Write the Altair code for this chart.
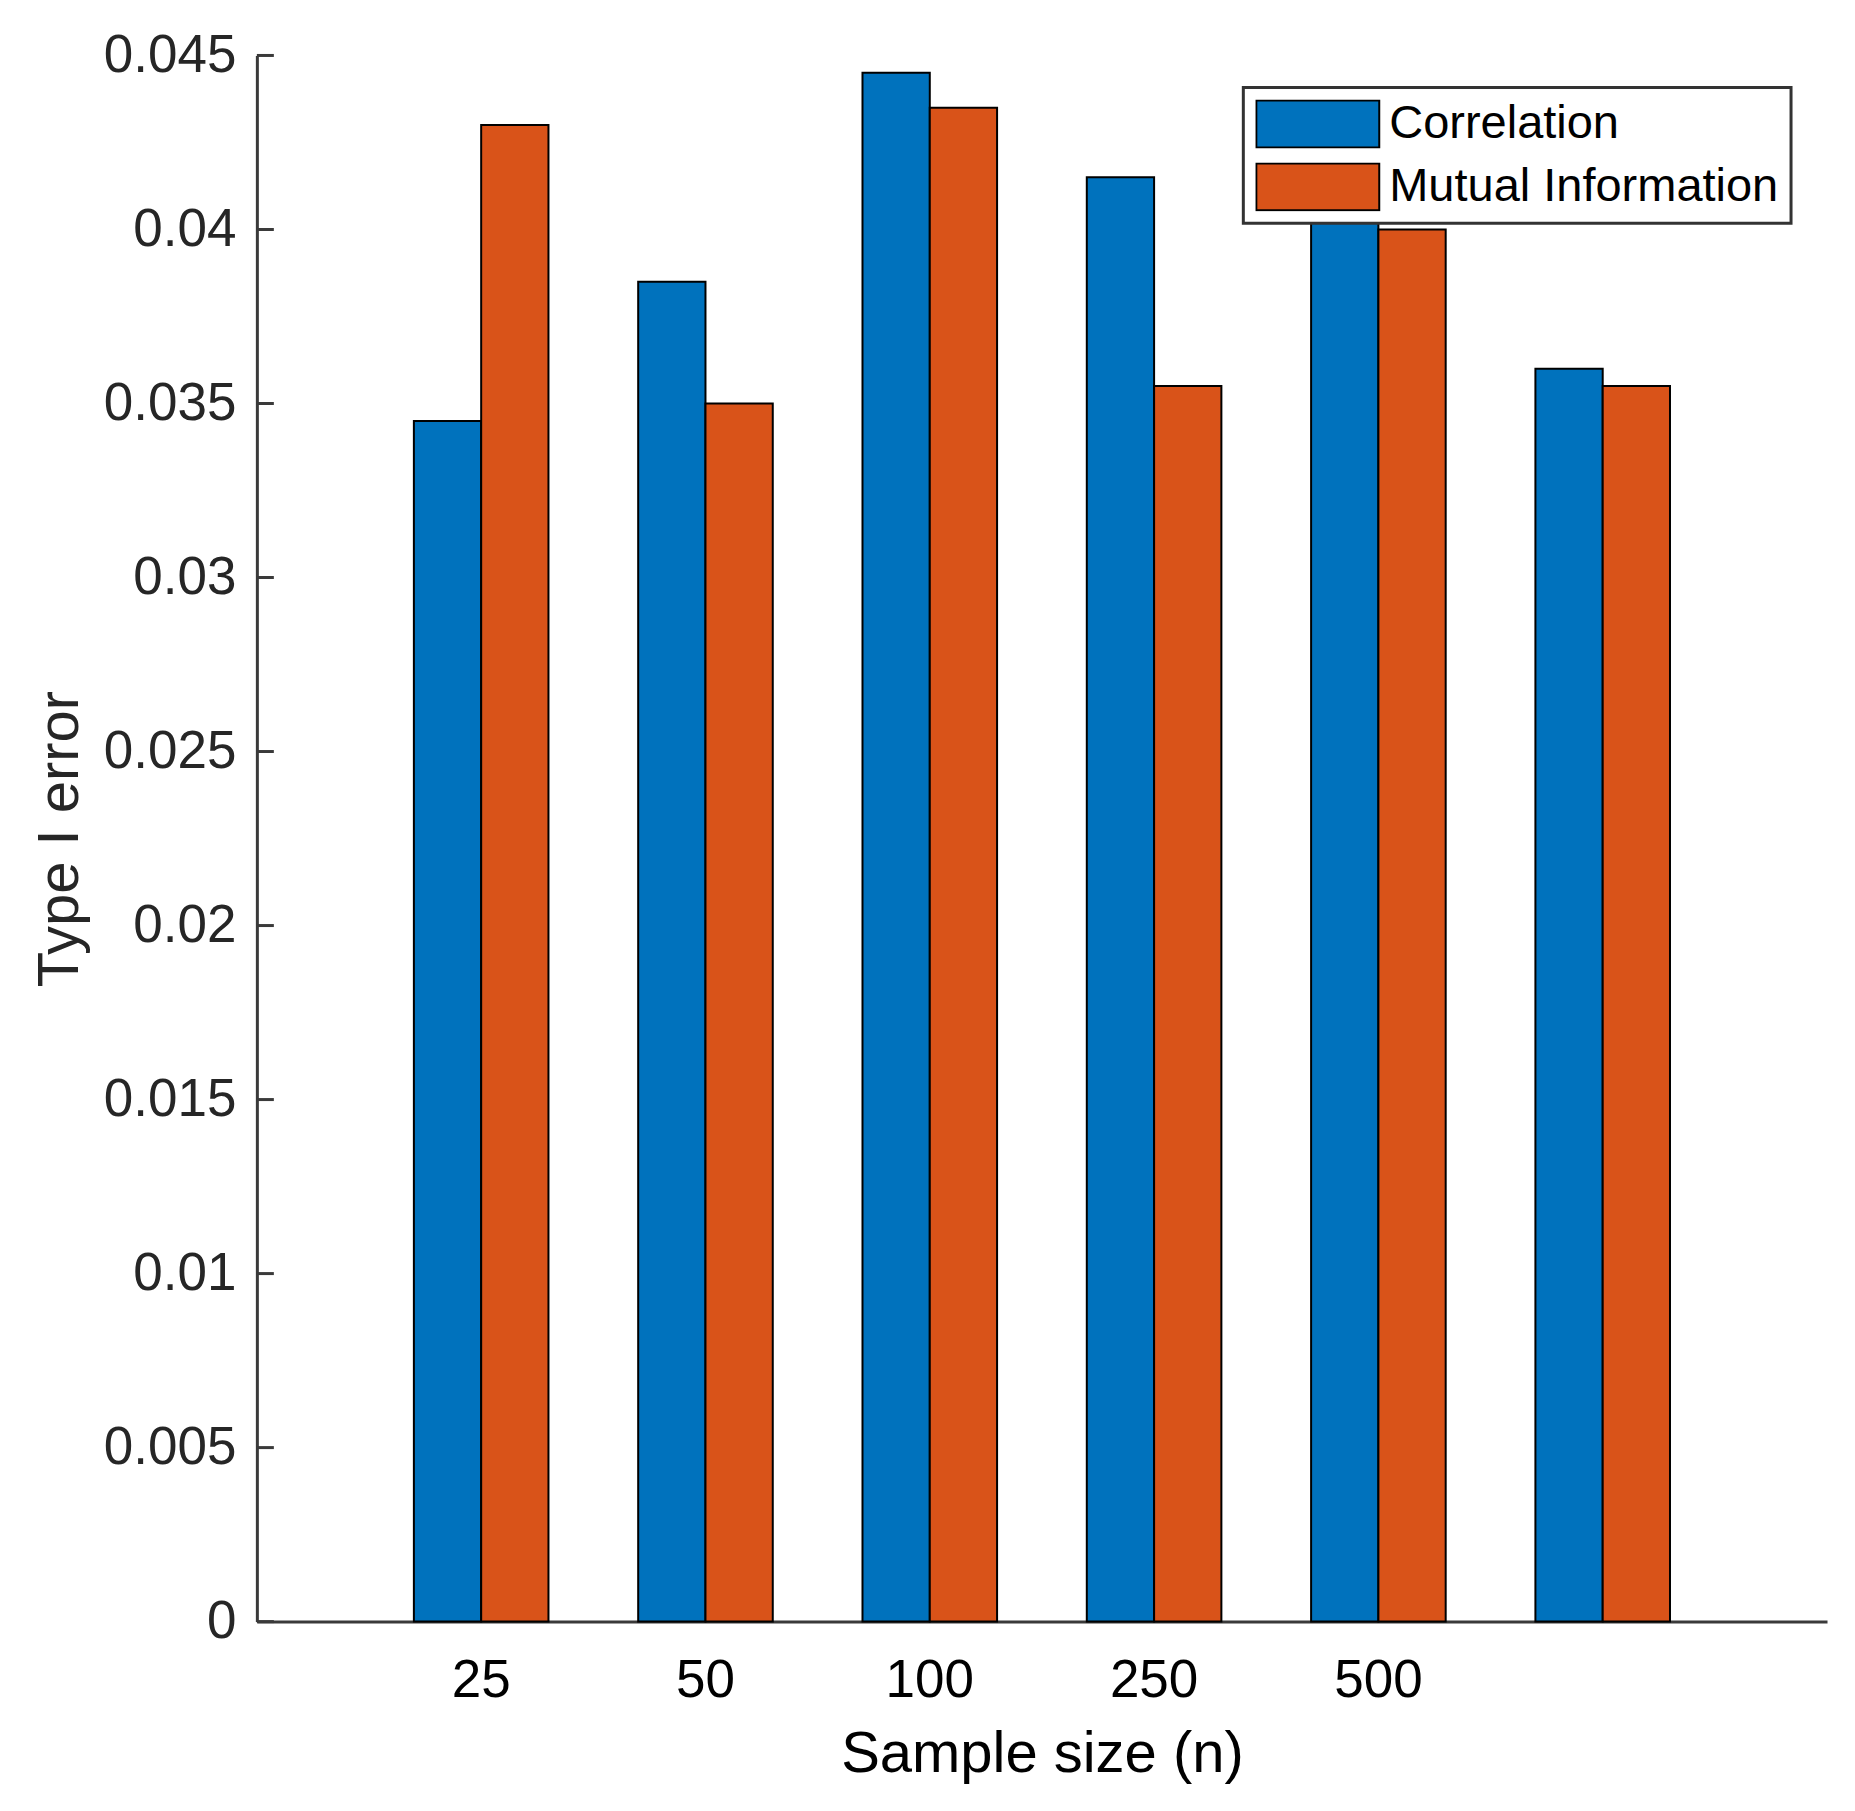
import altair as alt
import pandas as pd

groups = ["25", "50", "100", "250", "500", "(6)"]
series = ["Correlation", "Mutual Information"]
correlation = [0.0345, 0.0385, 0.0445, 0.0415, 0.041, 0.036]
mutual_info = [0.043, 0.035, 0.0435, 0.0355, 0.040, 0.0355]
y_ticks = [0, 0.005, 0.01, 0.015, 0.02, 0.025, 0.03, 0.035, 0.04, 0.045]
colors = ["#0072BD", "#D95319"]

rows = []
for g, c, m in zip(groups, correlation, mutual_info):
    rows.append({"n": g, "series": series[0], "value": c})
    rows.append({"n": g, "series": series[1], "value": m})
df = pd.DataFrame(rows)
ticks_df = pd.DataFrame({"t": y_ticks})

FONT = "Liberation Sans"
AX = "#262626"

bars = alt.Chart(df).mark_bar(stroke="black", strokeWidth=2).encode(
    x=alt.X(
        "n:N",
        sort=groups,
        scale=alt.Scale(paddingInner=0.4, paddingOuter=0.7),
        axis=alt.Axis(
            title="Sample size (n)",
            labelAngle=0,
            ticks=False,
            tickSize=0,
            labelPadding=33,
            labelFontSize=53,
            labelExpr="datum.label == '(6)' ? '' : datum.label",
            titleFontSize=58,
            titlePadding=18,
            titleFontWeight="normal",
            domainColor="#3a3a3a",
            domainWidth=3,
            labelColor="black",
            titleColor="black",
        ),
    ),
    xOffset=alt.XOffset("series:N", sort=series),
    y=alt.Y(
        "value:Q",
        scale=alt.Scale(domain=[0, 0.045], nice=False, zero=True),
        axis=alt.Axis(
            title="Type I error",
            values=y_ticks,
            format="~g",
            ticks=False,
            tickSize=0,
            labelPadding=21,
            labelFontSize=53,
            titleFontSize=58,
            titlePadding=14,
            titleFontWeight="normal",
            domainColor="#3a3a3a",
            domainWidth=3,
            grid=False,
            labelColor=AX,
            titleColor=AX,
        ),
    ),
    color=alt.Color(
        "series:N",
        sort=series,
        scale=alt.Scale(domain=series, range=colors),
        legend=alt.Legend(
            title=None,
            orient="none",
            legendX=987,
            legendY=32,
            symbolType="M-1,-0.382H1V0.382H-1Z",
            symbolSize=15129,
            symbolStrokeColor="black",
            symbolStrokeWidth=2,
            symbolOpacity=1,
            clipHeight=49,
            labelFont=FONT,
            labelFontSize=47,
            labelColor="black",
            labelOffset=9,
            labelLimit=1000,
            padding=12,
            rowPadding=14,
            fillColor="white",
        ),
    ),
)

tick_marks = alt.Chart(ticks_df).mark_rule(color="#3a3a3a", strokeWidth=3).encode(
    y=alt.Y("t:Q"),
    x=alt.value(0),
    x2=alt.value(17),
)

chart = (
    alt.layer(bars, tick_marks)
    .properties(
        width=1571,
        height=1567,
        autosize=alt.AutoSizeParams(type="none"),
        padding={"left": 249, "top": 47, "right": 20, "bottom": 180},
    )
    .configure(font=FONT)
    .configure_view(stroke=None)
    .configure_axis(labelFont=FONT, titleFont=FONT)
    .configure_legend(strokeColor="#333333", strokeWidth=3)
)

chart.save("out.html", embed_options={"renderer": "svg", "actions": False})
